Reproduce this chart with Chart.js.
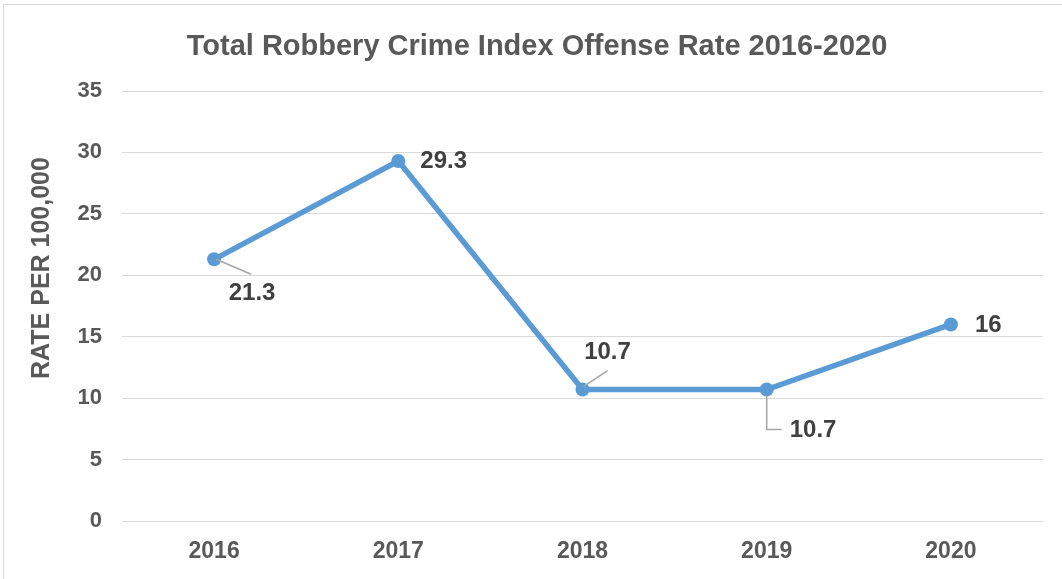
<!DOCTYPE html>
<html>
<head>
<meta charset="utf-8">
<script src="https://cdn.jsdelivr.net/npm/chart.js@4/dist/chart.umd.min.js"></script>
<style>
  html, body { margin: 0; padding: 0; background: #ffffff; }
  #wrap { width: 1062px; height: 579px; position: relative; }
</style>
</head>
<body>
<div id="wrap"><canvas id="c" width="1062" height="579"></canvas></div>
<script>
const chartTitle = 'Total Robbery Crime Index Offense Rate 2016-2020';
const yAxisTitle = 'RATE PER 100,000';
const years = ['2016', '2017', '2018', '2019', '2020'];
const rates = [21.3, 29.3, 10.7, 10.7, 16];
const yTicks = { min: 0, max: 35, step: 5 };

const FONT = '"Liberation Sans", Arial, sans-serif';

// label placement style per point: label anchor offset and optional leader path
const labelStyle = [
  { dx: 38, dy: 34, align: 'center', leader: [[2, 0], [37, 15]] },
  { dx: 22, dy: 0, align: 'left', leader: null },
  { dx: 25, dy: -37, align: 'center', leader: [[1, -3], [25, -19]] },
  { dx: 23, dy: 41, align: 'left', leader: [[0, 6], [0, 40], [15, 40]] },
  { dx: 24, dy: 1, align: 'left', leader: null }
];

const decor = {
  id: 'decor',
  beforeDraw(chart) {
    const ctx = chart.ctx;
    ctx.save();
    ctx.fillStyle = '#ffffff';
    ctx.fillRect(0, 0, chart.width, chart.height);
    ctx.strokeStyle = '#d9d9d9';
    ctx.lineWidth = 1;
    ctx.strokeRect(3.5, 4.5, chart.width + 20, chart.height + 20);
    ctx.restore();
  },
  afterDraw(chart) {
    const ctx = chart.ctx;
    ctx.save();
    // title
    ctx.fillStyle = '#595959';
    ctx.font = 'bold 29px ' + FONT;
    ctx.textAlign = 'center';
    ctx.textBaseline = 'middle';
    ctx.fillText(chartTitle, 537, 47);
    // y axis title
    ctx.font = 'bold 25px ' + FONT;
    ctx.translate(42, 268);
    ctx.rotate(-Math.PI / 2);
    ctx.fillText(yAxisTitle, 0, 0);
    ctx.restore();

    // data labels
    const meta = chart.getDatasetMeta(0);
    ctx.save();
    meta.data.forEach((pt, i) => {
      const st = labelStyle[i];
      const px = pt.x, py = pt.y;
      if (st.leader) {
        ctx.strokeStyle = '#a6a6a6';
        ctx.lineWidth = 1.5;
        ctx.beginPath();
        st.leader.forEach((p, k) => {
          if (k === 0) ctx.moveTo(px + p[0], py + p[1]);
          else ctx.lineTo(px + p[0], py + p[1]);
        });
        ctx.stroke();
      }
      ctx.fillStyle = '#404040';
      ctx.font = 'bold 24px ' + FONT;
      ctx.textAlign = st.align;
      ctx.textBaseline = 'middle';
      ctx.fillText(String(rates[i]), px + st.dx, py + st.dy);
    });
    ctx.restore();
  }
};

new Chart(document.getElementById('c'), {
  type: 'line',
  data: {
    labels: years,
    datasets: [{
      data: rates,
      borderColor: '#5B9BD5',
      backgroundColor: '#5B9BD5',
      borderWidth: 5.5,
      pointRadius: 7,
      pointBackgroundColor: '#5B9BD5',
      pointBorderColor: '#5B9BD5',
      pointBorderWidth: 0,
      tension: 0,
      fill: false
    }]
  },
  options: {
    responsive: false,
    animation: false,
    layout: { padding: { top: 91, right: 19, bottom: 0, left: 0 } },
    plugins: {
      legend: { display: false },
      title: { display: false },
      tooltip: { enabled: false }
    },
    scales: {
      x: {
        offset: true,
        grid: { display: false, drawTicks: false },
        border: { display: false },
        ticks: {
          color: '#595959',
          font: { family: FONT, size: 23, weight: 'bold' },
          padding: 17,
          maxRotation: 0
        },
        afterFit(s) { s.height = 58; }
      },
      y: {
        min: yTicks.min,
        max: yTicks.max,
        grid: { color: '#d9d9d9', lineWidth: 1, drawTicks: false },
        border: { display: false },
        ticks: {
          stepSize: yTicks.step,
          color: '#595959',
          font: { family: FONT, size: 22, weight: 'bold' },
          padding: 20
        },
        afterFit(s) { s.width = 122; }
      }
    }
  },
  plugins: [decor]
});
</script>
</body>
</html>
